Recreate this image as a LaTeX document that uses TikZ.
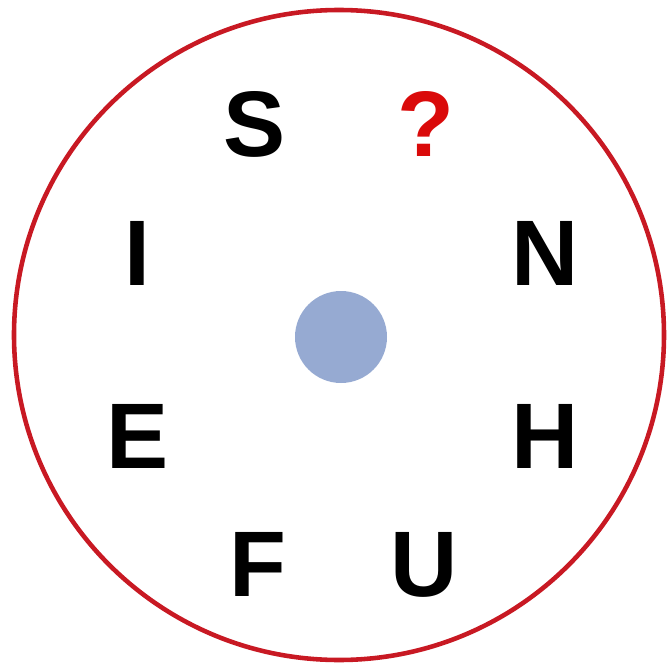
\documentclass[tikz,border=0pt]{standalone}
\usepackage{fontspec}
\setmainfont{Liberation Sans}
\usepackage{xcolor}
\definecolor{RingRed}{RGB}{200,25,35}
\definecolor{AskRed}{RGB}{218,10,10}
\definecolor{DotBlue}{RGB}{150,170,210}

\begin{document}
\begin{tikzpicture}[x=0.02cm,y=-0.02cm,
  letter/.style={font=\bfseries\fontsize{53}{53}\selectfont,anchor=base,inner sep=0pt}]
\useasboundingbox (0,0) rectangle (667,663);
\draw[RingRed,line width=2.6pt] (339,335) circle[radius=325];
\node[circle,fill=DotBlue,minimum size=92*0.02cm,inner sep=0pt] (dot) at (341,337) {};
% top row
\node[letter] (s) at (255,156) {S};
\node[letter,text=AskRed] (q) at (426,156) {?};
% sides
\node[letter] (i) at (137,285) {I};
\node[letter] (n) at (545,285) {N};
\node[letter] (e) at (138,468) {E};
\node[letter] (h) at (545,468) {H};
% bottom row
\node[letter] (f) at (258,596) {F};
\node[letter] (u) at (424,596) {U};
\end{tikzpicture}
\end{document}
